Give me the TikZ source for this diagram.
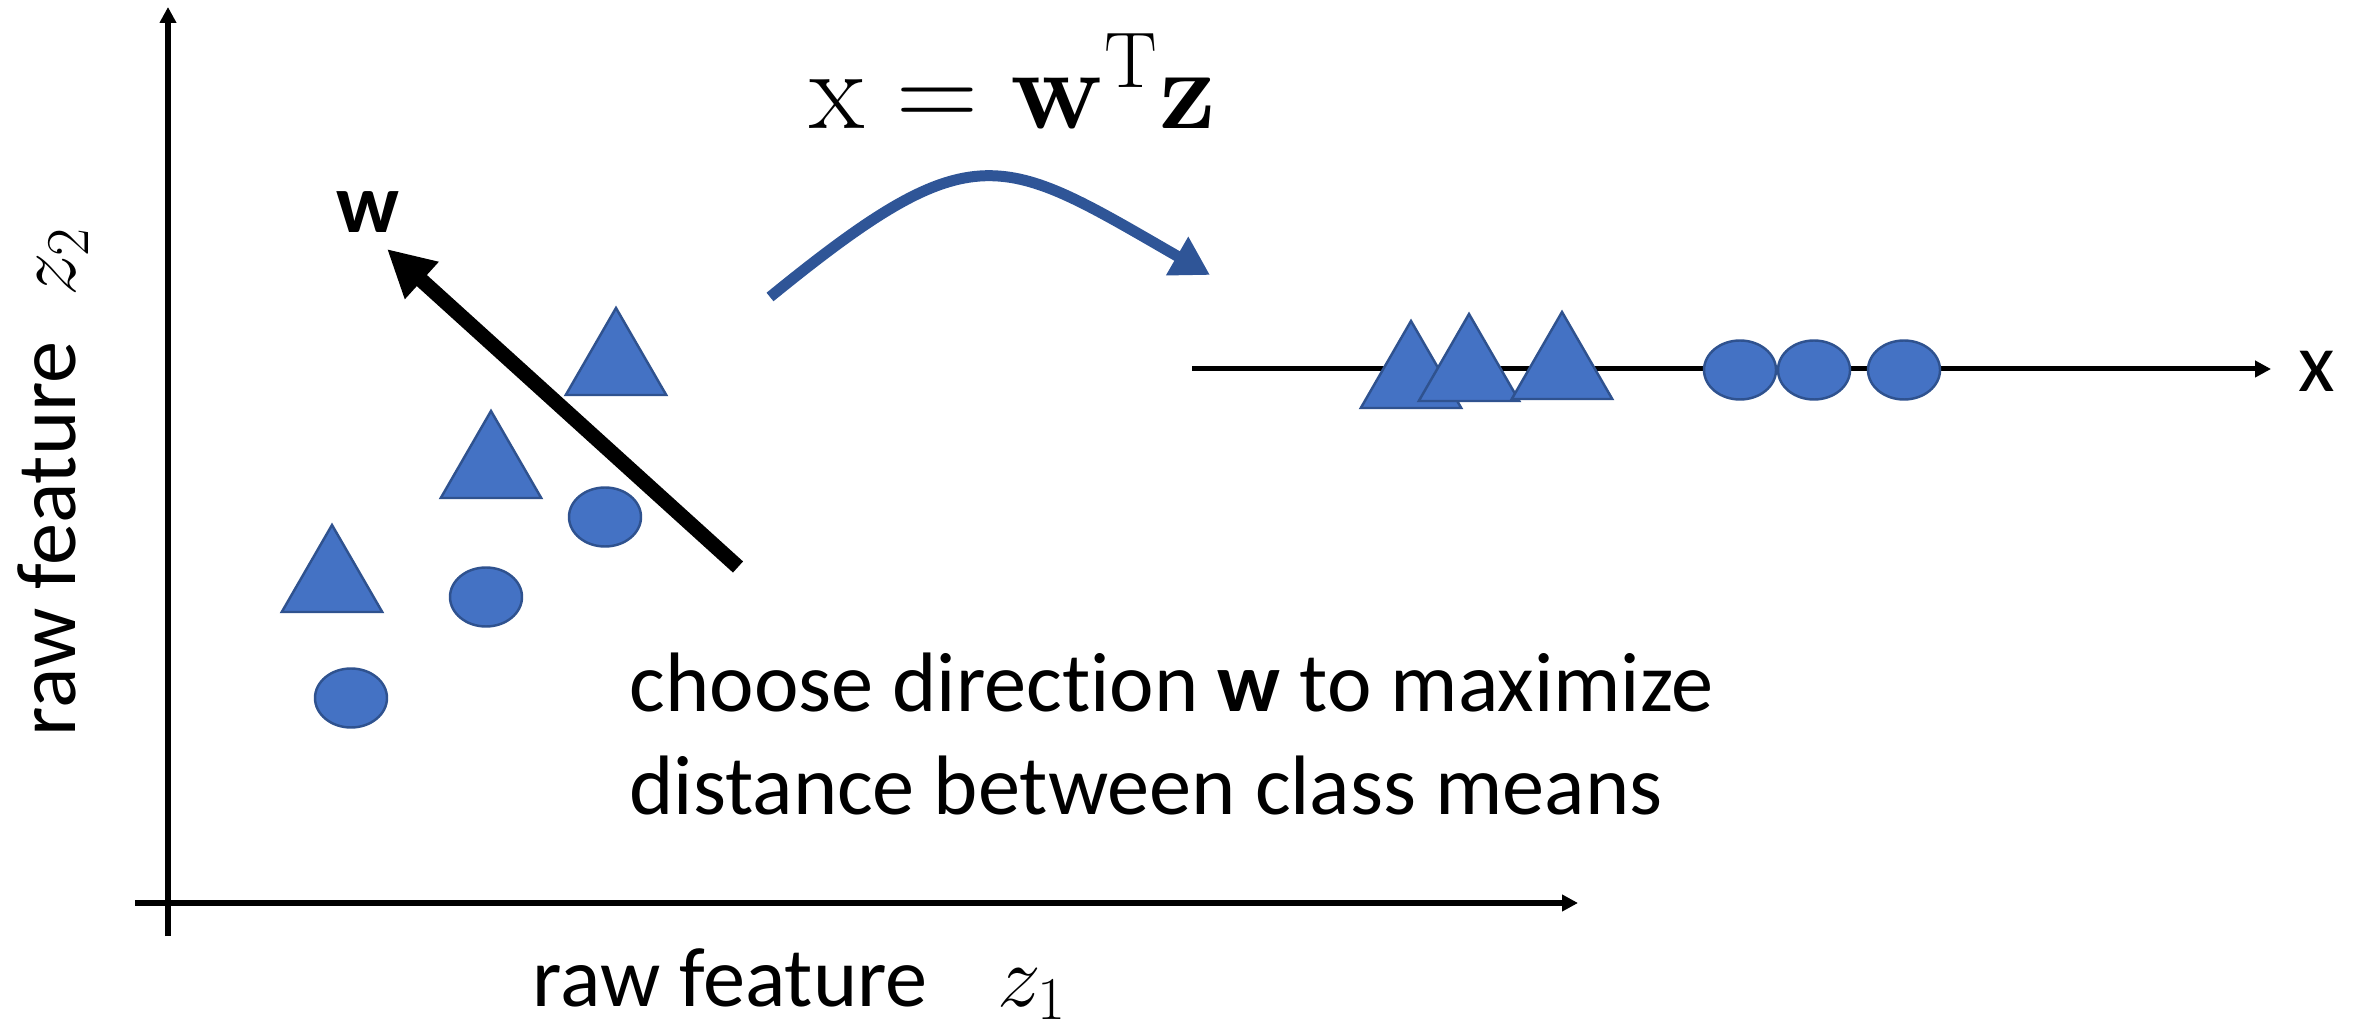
\documentclass[tikz,border=0pt]{standalone}
\usepackage[no-math]{fontspec}
\setmainfont{Carlito}[Ligatures=NoCommon]
\usepackage{tikz}
\usetikzlibrary{arrows.meta, shapes.geometric, positioning}
\definecolor{ptfill}{HTML}{4472C4}
\definecolor{ptedge}{HTML}{2F528F}
\definecolor{mapblue}{HTML}{2F5597}

\begin{document}
\begin{tikzpicture}[
    >={Triangle[length=0.16cm, width=0.16cm]},
    tri/.style={draw=ptedge, fill=ptfill, line width=0.7pt, regular polygon, regular polygon sides=3, minimum size=1.16cm, inner sep=0pt},
    blob/.style={draw=ptedge, fill=ptfill, line width=0.7pt, ellipse, minimum width=0.72cm, minimum height=0.59cm, inner sep=0pt},
    lbl/.style={font=\fontsize{24}{29.5}\selectfont, inner sep=0pt}
  ]
      \useasboundingbox (0,0) rectangle (23.59,-10.26);

      % raw feature axes
      \coordinate (ybot) at (1.68,-9.36);
      \coordinate (ytop) at (1.68,-0.07);
      \coordinate (xleft) at (1.35,-9.03);
      \coordinate (xright) at (15.78,-9.03);
      \draw[line width=0.06cm, ->] (ybot) -- (ytop);
      \draw[line width=0.06cm, ->] (xleft) -- (xright);
      \node[lbl, rotate=90, anchor=base west] (ylab) at (0.75,-7.37) {raw feature\hspace{0.45cm}$z_2$};
      \node[lbl, anchor=base west] (xlab) at (5.32,-10.06) {raw feature\hspace{0.7cm}$z_1$};

      % samples in the raw space
      \node[tri] (ta) at (3.32,-5.83) {};
      \node[tri] (tb) at (4.91,-4.69) {};
      \node[tri] (tc) at (6.16,-3.66) {};
      \node[blob] (ea) at (3.51,-6.98) {};
      \node[blob] (eb) at (4.86,-5.97) {};
      \node[blob] (ec) at (6.05,-5.17) {};

      % projection direction
      \coordinate (wtail) at (7.38,-5.67);
      \coordinate (wtip) at (3.87,-2.49);
      \draw[line width=0.15cm, -{Triangle[length=0.47cm, width=0.47cm]}] (wtail) -- (wtip);
      \node[lbl, anchor=base, font=\fontsize{24}{29}\selectfont\bfseries] (wlab) at (3.68,-2.33) {w};

      \node[lbl, anchor=base west, align=left] (note) at (6.29,-8.15) {choose direction \textbf{w} to maximize\\distance between class means};

      % mapping
      \node[lbl, anchor=base, scale=1.3] (eq) at (10.13,-1.29) {$\mathrm{x}=\mathbf{w}^{\mathrm{T}}\mathbf{z}$};
      \coordinate (mapfrom) at (7.70,-2.97);
      \coordinate (mapto) at (12.10,-2.75);
      \draw[mapblue, line width=0.11cm, -{Triangle[length=0.38cm, width=0.42cm]}] (mapfrom) .. controls (9.75,-1.30) and (10.00,-1.54) .. (mapto);

      % projected line
      \coordinate (nl) at (11.92,-3.69);
      \node[lbl, anchor=base, inner sep=0.27cm] (xout) at (23.17,-3.92) {x};
      \draw[line width=0.05cm, ->] (nl) -- (nl -| xout.west);
      \node[tri] (pa) at (14.11,-3.79) {};
      \node[tri] (pb) at (14.69,-3.72) {};
      \node[tri] (pc) at (15.62,-3.70) {};
      \node[blob] (pd) at (17.40,-3.70) {};
      \node[blob] (pe) at (18.14,-3.70) {};
      \node[blob] (pf) at (19.04,-3.70) {};
    \end{tikzpicture}
\end{document}
